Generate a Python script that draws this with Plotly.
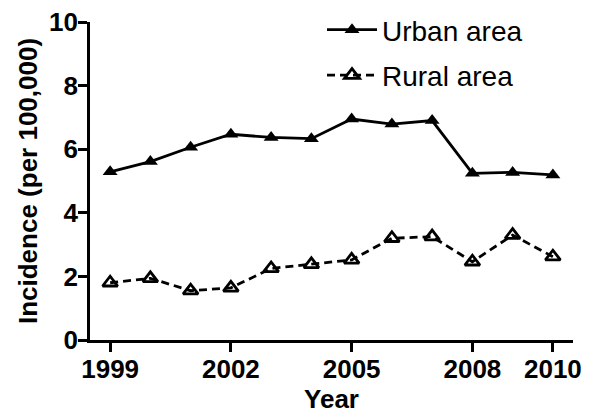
import plotly.graph_objects as go

years = [1999, 2000, 2001, 2002, 2003, 2004, 2005, 2006, 2007, 2008, 2009, 2010]
urban = [5.29, 5.61, 6.06, 6.47, 6.37, 6.33, 6.95, 6.79, 6.90, 5.24, 5.27, 5.19]
rural = [1.80, 1.94, 1.55, 1.64, 2.25, 2.38, 2.52, 3.20, 3.25, 2.46, 3.30, 2.62]
x_ticks = [1999, 2002, 2005, 2008, 2010]
y_ticks = [0, 2, 4, 6, 8, 10]

fig = go.Figure()
fig.add_trace(go.Scatter(
    x=years, y=urban, mode="lines+markers", name="Urban area",
    legendgroup="u",
    line=dict(color="black", width=2.8),
    marker=dict(symbol="triangle-up", size=13, color="black"),
))
fig.add_trace(go.Scatter(
    x=years, y=rural, mode="lines+markers", name="Rural area",
    legendgroup="r",
    line=dict(color="black", width=2.8, dash="8px,5px"),
    marker=dict(symbol="triangle-up-open", size=13, color="black",
                line=dict(width=2.8, color="black")),
))

FAM = "Liberation Sans, Arial"
tick_font = dict(family=FAM, size=26, color="black", weight="bold")
fig.update_layout(
    width=611, height=415,
    margin=dict(l=90, r=38, t=22, b=75, autoexpand=False),
    paper_bgcolor="white", plot_bgcolor="white",
    font=dict(family=FAM, color="black"),
    showlegend=True,
    legend=dict(x=322/611, y=1 - 5/415, xref="container", yref="container",
                xanchor="left", yanchor="top",
                font=dict(size=28, family=FAM),
                itemwidth=50,
                bgcolor="rgba(0,0,0,0)", traceorder="grouped", tracegroupgap=6),
    xaxis=dict(range=[1998.5, 2010.5], tickvals=x_ticks, ticktext=[str(v) for v in x_ticks],
               showgrid=False, zeroline=False, showline=True, linecolor="black", linewidth=2.8,
               ticks="outside", ticklen=9, tickwidth=2.8, tickcolor="black",
               tickfont=tick_font, automargin=False, ticklabelstandoff=-5,
               title=dict(text="Year", font=dict(family=FAM, size=26, weight="bold"), standoff=0)),
    yaxis=dict(range=[0, 10], tickvals=y_ticks,
               showgrid=False, zeroline=False, showline=True, linecolor="black", linewidth=2.8,
               ticks="outside", ticklen=9, tickwidth=2.8, tickcolor="black",
               tickfont=tick_font, automargin=False, ticklabelstandoff=-5,
               title=dict(text="Incidence (per 100,000)", font=dict(family=FAM, size=26, weight="bold"), standoff=4)),
)

fig.write_html("out.html", config={"displayModeBar": False})
with open("out.html", encoding="utf-8") as f:
    html = f.read()
html = html.replace("<head>", "<head><style>html,body{margin:0;padding:0;overflow:hidden;}</style>", 1)
with open("out.html", "w", encoding="utf-8") as f:
    f.write(html)
